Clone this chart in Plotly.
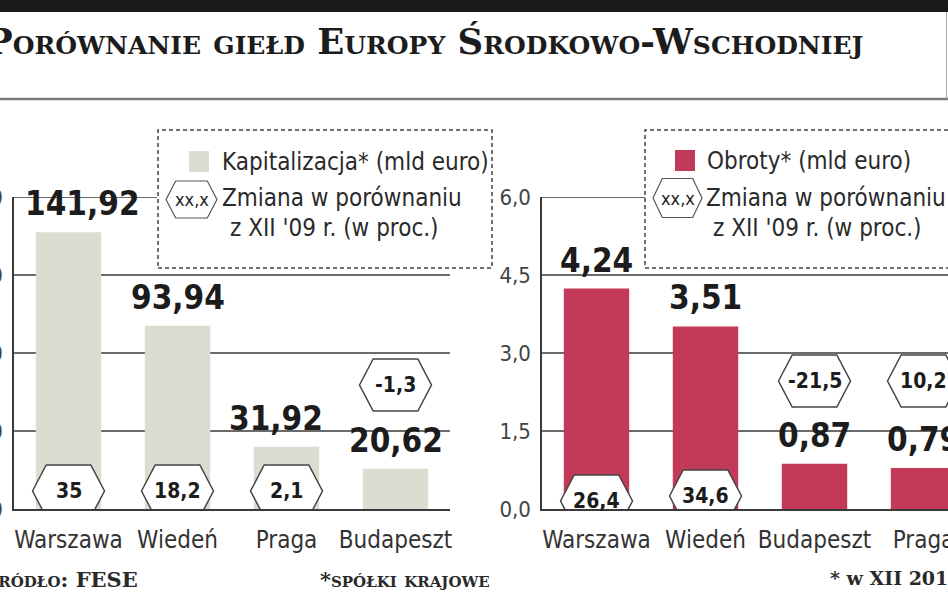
import plotly.graph_objects as go

W, H = 948, 593

# ---------------- data ----------------
cap_categories = ["Warszawa", "Wiedeń", "Praga", "Budapeszt"]
cap_values = [141.92, 93.94, 31.92, 20.62]
cap_value_labels = ["141,92", "93,94", "31,92", "20,62"]
cap_change = ["35", "18,2", "2,1", "-1,3"]
cap_ticks = [0, 40, 80, 120, 160]
cap_tick_labels = ["0", "40", "80", "120", "160"]

turn_categories = ["Warszawa", "Wiedeń", "Budapeszt", "Praga"]
turn_values = [4.24, 3.51, 0.87, 0.79]
turn_value_labels = ["4,24", "3,51", "0,87", "0,79"]
turn_change = ["26,4", "34,6", "-21,5", "10,2"]
turn_ticks = [0, 1.5, 3.0, 4.5, 6.0]
turn_tick_labels = ["0,0", "1,5", "3,0", "4,5", "6,0"]

title_text = "Porównanie giełd Europy Środkowo-Wschodniej"
legend_cap = "Kapitalizacja* (mld euro)"
legend_turn = "Obroty* (mld euro)"
legend_change_1 = "Zmiana w porównaniu"
legend_change_2 = "z XII '09 r. (w proc.)"
footer_source = "Źródło: FESE"
footer_note_1 = "*spółki krajowe"
footer_note_2 = "* w XII 2010"

# ---------------- style ----------------
NARROW = "DejaVu Sans Condensed, Liberation Sans Narrow, Arial Narrow, sans-serif"
SERIF = "DejaVu Serif, Liberation Serif, serif"
GREY_BAR = "#dcdcd1"
RED_BAR = "#c23a57"
INK = "#1c1c1c"
AX = "#3a3a3a"


def PX(x):
    return x / W


def PY(y):
    return 1 - y / H


def hex_pts(cx, cy, w, h):
    hw, hh, ind = w / 2, h / 2, w * 0.19
    return [(cx - hw, cy), (cx - hw + ind, cy + hh), (cx + hw - ind, cy + hh),
            (cx + hw, cy), (cx + hw - ind, cy - hh), (cx - hw + ind, cy - hh)]


def path_from(pts, fx=lambda v: v, fy=lambda v: v):
    return "M " + " L ".join(f"{fx(x):.5f} {fy(y):.5f}" for x, y in pts) + " Z"


xpos = list(range(4))

fig = go.Figure()
fig.add_trace(go.Bar(x=xpos, y=cap_values, xaxis="x", yaxis="y", width=0.6,
                     marker=dict(color=GREY_BAR, line=dict(width=0)),
                     hoverinfo="skip", showlegend=False))
fig.add_trace(go.Bar(x=xpos, y=turn_values, xaxis="x2", yaxis="y2", width=0.6,
                     marker=dict(color=RED_BAR, line=dict(width=0)),
                     hoverinfo="skip", showlegend=False))

unit = 109.0  # px per category
left_x0, left_x1 = 14, 450
right_x0 = 542
y_top, y_bot = 197, 509

axis_common = dict(showgrid=False, zeroline=False, fixedrange=True, automargin=False)
xtick_font = dict(family=NARROW, size=24, color="#333")
ytick_font = dict(family=NARROW, size=22, color="#444")

fig.update_layout(
    width=W, height=H,
    margin=dict(l=0, r=0, t=0, b=0),
    paper_bgcolor="white", plot_bgcolor="rgba(0,0,0,0)",
    showlegend=False,
    xaxis=dict(domain=[PX(left_x0), PX(left_x1)], range=[-0.5, 3.5], anchor="y",
               tickvals=xpos, ticktext=cap_categories, ticks="", tickangle=0,
               showline=True, linecolor=AX, linewidth=2, tickfont=xtick_font,
               ticklabelstandoff=8, ticklabeloverflow="allow", **axis_common),
    yaxis=dict(domain=[PY(y_bot), PY(y_top)], range=[0, 160], anchor="x",
               tickvals=cap_ticks, ticktext=cap_tick_labels, ticks="",
               showline=True, linecolor=AX, linewidth=1.5, tickfont=ytick_font,
               ticklabelstandoff=5, ticklabeloverflow="allow", **axis_common),
    xaxis2=dict(domain=[PX(right_x0), 1],
                range=[-0.5, -0.5 + (W - right_x0) / unit], anchor="y2",
                tickvals=xpos, ticktext=turn_categories, ticks="", tickangle=0,
                showline=True, linecolor=AX, linewidth=2, tickfont=xtick_font,
                ticklabelstandoff=8, ticklabeloverflow="allow", **axis_common),
    yaxis2=dict(domain=[PY(y_bot), PY(y_top)], range=[0, 6], anchor="x2",
                tickvals=turn_ticks, ticktext=turn_tick_labels, ticks="",
                showline=True, linecolor=AX, linewidth=1.5, tickfont=ytick_font,
                ticklabelstandoff=5, ticklabeloverflow="allow", **axis_common),
)

shapes = []
# header bar and separator
shapes.append(dict(type="rect", xref="paper", yref="paper", x0=0, x1=1,
                   y0=PY(12), y1=1.01, fillcolor="#1b1b1b", line=dict(width=0)))
shapes.append(dict(type="line", xref="paper", yref="paper", x0=0, x1=1,
                   y0=PY(99), y1=PY(99), line=dict(color="#7a7a7a", width=2.5)))
shapes.append(dict(type="rect", xref="paper", yref="paper", x0=PX(946), x1=PX(947),
                   y0=PY(99), y1=PY(12), fillcolor="#aaaaaa", line=dict(width=0)))

# gridlines
for t in cap_ticks[1:]:
    x1 = PX(157) if t == cap_ticks[-1] else PX(left_x1)
    shapes.append(dict(type="line", xref="paper", yref="y", x0=PX(left_x0), x1=x1,
                       y0=t, y1=t, layer="below", line=dict(color=AX, width=1.5)))
for t in turn_ticks[1:]:
    x1 = PX(645) if t == turn_ticks[-1] else 1
    shapes.append(dict(type="line", xref="paper", yref="y2", x0=PX(right_x0), x1=x1,
                       y0=t, y1=t, layer="below", line=dict(color=AX, width=1.5)))

# legend boxes
dash_line = dict(color="#444", width=1.5, dash="4px,3px")
shapes.append(dict(type="rect", xref="paper", yref="paper", x0=PX(158), x1=PX(492),
                   y0=PY(268), y1=PY(130), line=dash_line))
shapes.append(dict(type="rect", xref="paper", yref="paper", x0=PX(645), x1=PX(990),
                   y0=PY(268), y1=PY(130), line=dash_line))
shapes.append(dict(type="rect", xref="paper", yref="paper", x0=PX(189), x1=PX(209),
                   y0=PY(172), y1=PY(151), fillcolor=GREY_BAR, line=dict(width=0)))
shapes.append(dict(type="rect", xref="paper", yref="paper", x0=PX(675), x1=PX(695),
                   y0=PY(171), y1=PY(150), fillcolor=RED_BAR, line=dict(width=0)))
for cx, cy, w, h in ((191.5, 199.5, 51, 37), (677.5, 198, 49, 39)):
    shapes.append(dict(type="path", xref="paper", yref="paper",
                       path=path_from(hex_pts(cx, cy, w, h), PX, PY),
                       fillcolor="white", line=dict(color="#555", width=1.2)))

annotations = []

# hexagons with change values (pixel offsets above the baseline)
cap_hex_offset = [18, 18, 18, 124]
turn_hex_offset = [8, 13, 128, 128]
hex_font = dict(family=NARROW, size=21, color=INK, weight="bold")
for i in xpos:
    for xr, yr, off, lab in (("x", "y", cap_hex_offset[i], cap_change[i]),
                             ("x2", "y2", turn_hex_offset[i], turn_change[i])):
        shapes.append(dict(type="path", xref=xr, yref=yr, xsizemode="pixel",
                           ysizemode="pixel", xanchor=i, yanchor=0,
                           path=path_from(hex_pts(0, off, 72, 52)),
                           fillcolor="white", line=dict(color="#444", width=1.5)))
        annotations.append(dict(x=i, y=0, xref=xr, yref=yr, yshift=off, text=lab,
                                showarrow=False, xanchor="center", yanchor="middle",
                                font=hex_font))

# value labels above bars (small horizontal nudges as in the original layout)
cap_label_dx = [14, 0, -11, 0]
val_font = dict(family=NARROW, size=33, color=INK, weight="bold")
for i in xpos:
    annotations.append(dict(x=i, y=cap_values[i], xref="x", yref="y", text=cap_value_labels[i],
                            showarrow=False, xanchor="center", yanchor="bottom", yshift=7,
                            xshift=cap_label_dx[i], font=val_font))
    annotations.append(dict(x=i, y=turn_values[i], xref="x2", yref="y2", text=turn_value_labels[i],
                            showarrow=False, xanchor="center", yanchor="bottom", yshift=7,
                            font=val_font))

# legend texts
leg_font = dict(family=NARROW, size=24, color="#2a2a2a")
for x, y, t in ((220, 162, legend_cap), (220, 198, legend_change_1), (228, 228, legend_change_2),
                (705, 161, legend_turn), (704, 198, legend_change_1), (711, 228, legend_change_2)):
    annotations.append(dict(x=PX(x), y=PY(y), xref="paper", yref="paper", text=t,
                            showarrow=False, xanchor="left", yanchor="middle", font=leg_font))
for x, y in ((191.5, 199.5), (677.5, 198)):
    annotations.append(dict(x=PX(x), y=PY(y), xref="paper", yref="paper", text="xx,x",
                            showarrow=False, xanchor="center", yanchor="middle",
                            font=dict(family=NARROW, size=18, color=INK)))

# title
annotations.append(dict(x=0, y=PY(41), xref="paper", yref="paper", xshift=-16, text=title_text,
                        showarrow=False, xanchor="left", yanchor="middle",
                        font=dict(family=SERIF, size=35.5, color=INK, weight="bold",
                                  variant="small-caps")))
# footer
foot_font = dict(family=SERIF, size=21, color="#2a2a2a", weight="bold", variant="small-caps")
annotations.append(dict(x=0, y=PY(579), xref="paper", yref="paper", xshift=-19, text=footer_source,
                        showarrow=False, xanchor="left", yanchor="middle", font=foot_font))
annotations.append(dict(x=PX(318), y=PY(579), xref="paper", yref="paper", text=footer_note_1,
                        showarrow=False, xanchor="left", yanchor="middle", font=foot_font))
annotations.append(dict(x=PX(828), y=PY(578), xref="paper", yref="paper", text=footer_note_2,
                        showarrow=False, xanchor="left", yanchor="middle",
                        font=dict(family=SERIF, size=19, color="#2a2a2a", weight="bold")))

fig.update_layout(shapes=shapes, annotations=annotations)
fig.write_html("out.html", config={"displayModeBar": False},
               post_script="document.body.style.margin='0';document.body.style.overflow='hidden';")
